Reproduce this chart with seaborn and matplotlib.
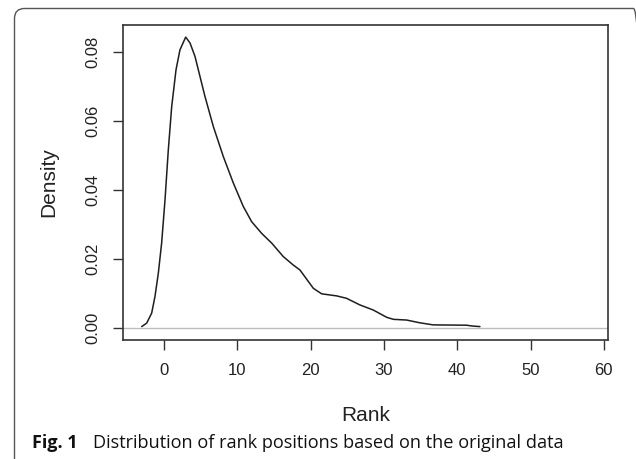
import numpy as np
import pandas as pd
import matplotlib
matplotlib.use("Agg")
import matplotlib.pyplot as plt
import seaborn as sns
from matplotlib.patches import FancyBboxPatch
from matplotlib.transforms import IdentityTransform

# density curve
rank = [-3.04, -2.36, -1.68, -1.23, -0.77, -0.32, 0.14, 0.59, 1.05, 1.64, 2.18, 2.96,
        3.55, 4.23, 4.91, 5.59, 6.73, 8.09, 9.46, 10.82, 11.96, 13.33, 14.69, 16.27,
        17.6, 18.55, 20.37, 21.5, 23.55, 24.9, 26.7, 28.55, 30.37, 31.3, 33.1, 34.9,
        36.7, 41.3, 41.9, 43.1]
density = [0.0004, 0.0014, 0.0043, 0.0091, 0.0159, 0.0246, 0.0371, 0.0516, 0.0641, 0.0748,
           0.0806, 0.0843, 0.0826, 0.0787, 0.0729, 0.0671, 0.0584, 0.0497, 0.0420, 0.0352,
           0.0308, 0.0274, 0.0246, 0.0207, 0.0183, 0.0168, 0.0115, 0.0099, 0.0093, 0.0086,
           0.0067, 0.0052, 0.0031, 0.0025, 0.0023, 0.0015, 0.0009, 0.0008, 0.0006, 0.0004]
x_ticks = [0, 10, 20, 30, 40, 50, 60]
y_ticks = [0.00, 0.02, 0.04, 0.06, 0.08]
y_ticklabels = ["0.00", "0.02", "0.04", "0.06", "0.08"]
caption_bold = "Fig. 1"
caption_text = "Distribution of rank positions based on the original data"

df = pd.DataFrame({"Rank": rank, "Density": density})

sns.set_style("ticks")
plt.rcParams["font.family"] = ["Liberation Sans", "DejaVu Sans"]

fig = plt.figure(figsize=(6.36, 4.59), dpi=100)
ax = fig.add_axes([0.1934, 0.2593, 0.9560 - 0.1934, 0.9455 - 0.2593])

ax.axhline(0, color="#bdbdbd", lw=1.0, zorder=1)
sns.lineplot(data=df, x="Rank", y="Density", sort=False, estimator=None,
             color="#1e1e1e", lw=1.1, ax=ax, zorder=2)

ax.set_xlim(-5.59, 60.57)
ax.set_ylim(-0.00348, 0.0878)
ax.set_xticks(x_ticks)
ax.set_yticks(y_ticks)
ax.set_yticklabels(y_ticklabels)
for s in ax.spines.values():
    s.set_visible(True)
    s.set_color("#333333")
    s.set_linewidth(1.2)
ax.tick_params(axis="both", direction="out", length=7.5, width=1.0, color="#333333",
               labelsize=12, labelcolor="#222222")
ax.tick_params(axis="x", pad=9)
ax.tick_params(axis="y", pad=9, labelrotation=90)
for lab in ax.get_yticklabels():
    lab.set_va("center")

ax.set_xlabel("Rank", fontsize=15, color="#222222", labelpad=20)
ax.set_ylabel("Density", fontsize=15, color="#222222", labelpad=19)

# rounded frame round the figure, as in the journal layout
frame = FancyBboxPatch((14.5, -20), 629, 470.5, boxstyle="round,pad=0,rounding_size=10",
                       transform=IdentityTransform(), fill=False, ec="#555555", lw=1.0)
fig.add_artist(frame)

fig.text(32 / 636, 1 - 443 / 459, caption_bold, fontsize=13, fontweight="bold",
         family=["Open Sans", "DejaVu Sans"], va="center", ha="left", color="#111111")
fig.text(93 / 636, 1 - 443 / 459, caption_text, fontsize=13.1,
         family=["Open Sans", "DejaVu Sans"], va="center", ha="left", color="#111111")

fig.savefig("out.png", dpi=100, facecolor="white")
